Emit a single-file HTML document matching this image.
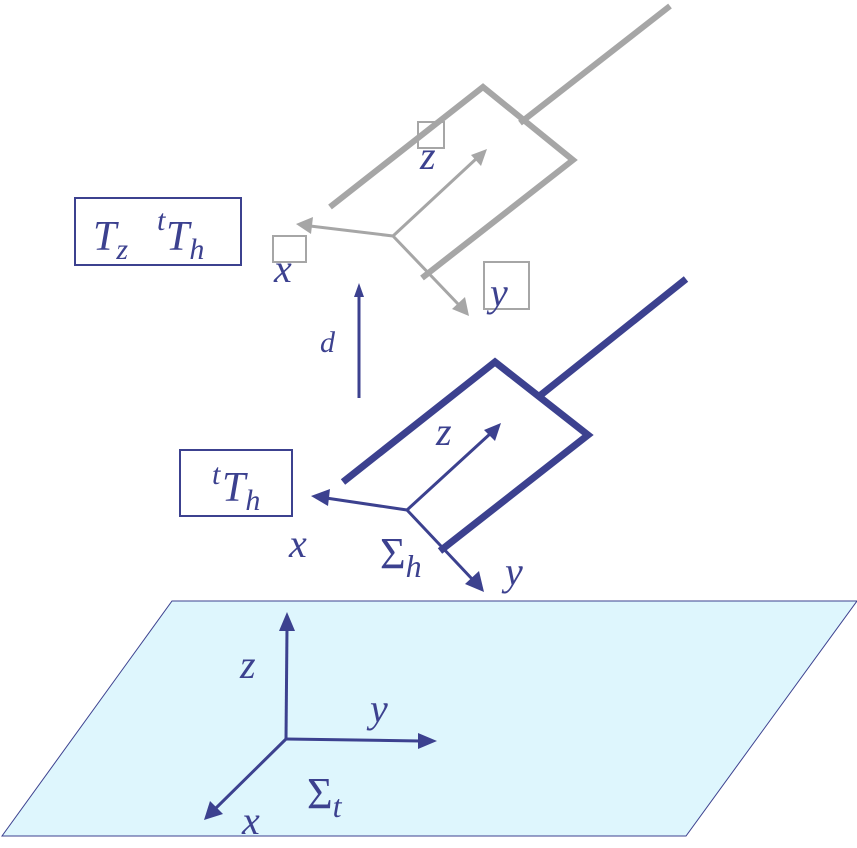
<!DOCTYPE html>
<html><head><meta charset="utf-8"><style>
html,body{margin:0;padding:0;background:#fff;}
svg{display:block}
text{font-family:"Liberation Serif",serif;font-style:italic;fill:#3c418f}
.up{font-style:normal}
</style></head><body>
<svg width="857" height="848" viewBox="0 0 857 848" xmlns="http://www.w3.org/2000/svg">
<!-- plane -->
<polygon points="172,601 857,601 686,836 2,836" fill="#def6fd" stroke="#3c418f" stroke-width="1"/>

<!-- gray gripper -->
<g stroke="#a6a6a6" stroke-width="6" fill="none">
<polyline points="330,207 483,87 573,160 422,278"/>
<line x1="520" y1="123" x2="670" y2="6"/>
</g>
<g stroke="#a6a6a6" stroke-width="3" fill="#a6a6a6">
<line x1="393" y1="236" x2="310" y2="226"/>
<polygon points="296,224 313,217 311,234" stroke="none"/>
<line x1="393" y1="236" x2="477" y2="158"/>
<polygon points="487,149 481,166 471,155" stroke="none"/>
<line x1="393" y1="236" x2="459" y2="305"/>
<polygon points="469,316 452,309 465,297" stroke="none"/>
</g>
<g fill="none" stroke="#a6a6a6" stroke-width="2">
<rect x="418" y="122" width="26" height="26"/>
<rect x="273" y="236" width="33" height="26"/>
<rect x="484" y="262" width="45" height="47"/>
</g>
<text x="420" y="169" font-size="40">z</text>
<text x="274" y="282" font-size="40">x</text>
<text x="490" y="306" font-size="40">y</text>

<rect x="75" y="198" width="166" height="67" fill="#fff" stroke="#3c418f" stroke-width="2"/>
<text x="93" y="250" font-size="42">T<tspan font-size="30" dy="9">z</tspan></text>
<text x="157" y="230" font-size="30">t</text>
<text x="166" y="250" font-size="42">T<tspan font-size="30" dy="9">h</tspan></text>

<!-- d arrow -->
<line x1="359" y1="398" x2="359" y2="295" stroke="#3c418f" stroke-width="3"/>
<polygon points="359,283 354,297 364,297" fill="#3c418f"/>
<text x="320" y="352" font-size="30">d</text>

<!-- blue gripper -->
<g stroke="#3c418f" stroke-width="7" fill="none">
<polyline points="343,482 495,362 588,435 440,551"/>
<line x1="537" y1="398" x2="686" y2="279"/>
</g>
<g stroke="#3c418f" stroke-width="3" fill="#3c418f">
<line x1="407" y1="510" x2="326" y2="498"/>
<polygon points="311,496 330,489 328,506" stroke="none"/>
<line x1="407" y1="510" x2="491" y2="433"/>
<polygon points="501,423 495,441 484,430" stroke="none"/>
<line x1="407" y1="510" x2="473" y2="580"/>
<polygon points="484,592 465,584 479,571" stroke="none"/>
</g>
<text x="436" y="445" font-size="40">z</text>
<text x="289" y="557" font-size="40">x</text>
<text x="380" y="568" font-size="44" class="up">Σ<tspan font-size="32" dy="9" style="font-style:italic">h</tspan></text>
<text x="505" y="585" font-size="40">y</text>

<rect x="180" y="450" width="112" height="66" fill="#fff" stroke="#3c418f" stroke-width="2"/>
<text x="212" y="484" font-size="30">t</text>
<text x="222" y="501" font-size="42">T<tspan font-size="30" dy="9">h</tspan></text>

<!-- plane axes -->
<g stroke="#3c418f" stroke-width="3" fill="#3c418f">
<line x1="286" y1="739" x2="287" y2="628"/>
<polygon points="287,612 279,631 295,631" stroke="none"/>
<line x1="286" y1="739" x2="420" y2="741"/>
<polygon points="437,741 418,733 418,749" stroke="none"/>
<line x1="286" y1="739" x2="215" y2="809"/>
<polygon points="204,820 210,801 223,814" stroke="none"/>
</g>
<text x="240" y="678" font-size="40">z</text>
<text x="370" y="722" font-size="40">y</text>
<text x="242" y="834" font-size="40">x</text>
<text x="307" y="808" font-size="44" class="up">Σ<tspan font-size="32" dy="9" style="font-style:italic">t</tspan></text>
</svg>
</body></html>
